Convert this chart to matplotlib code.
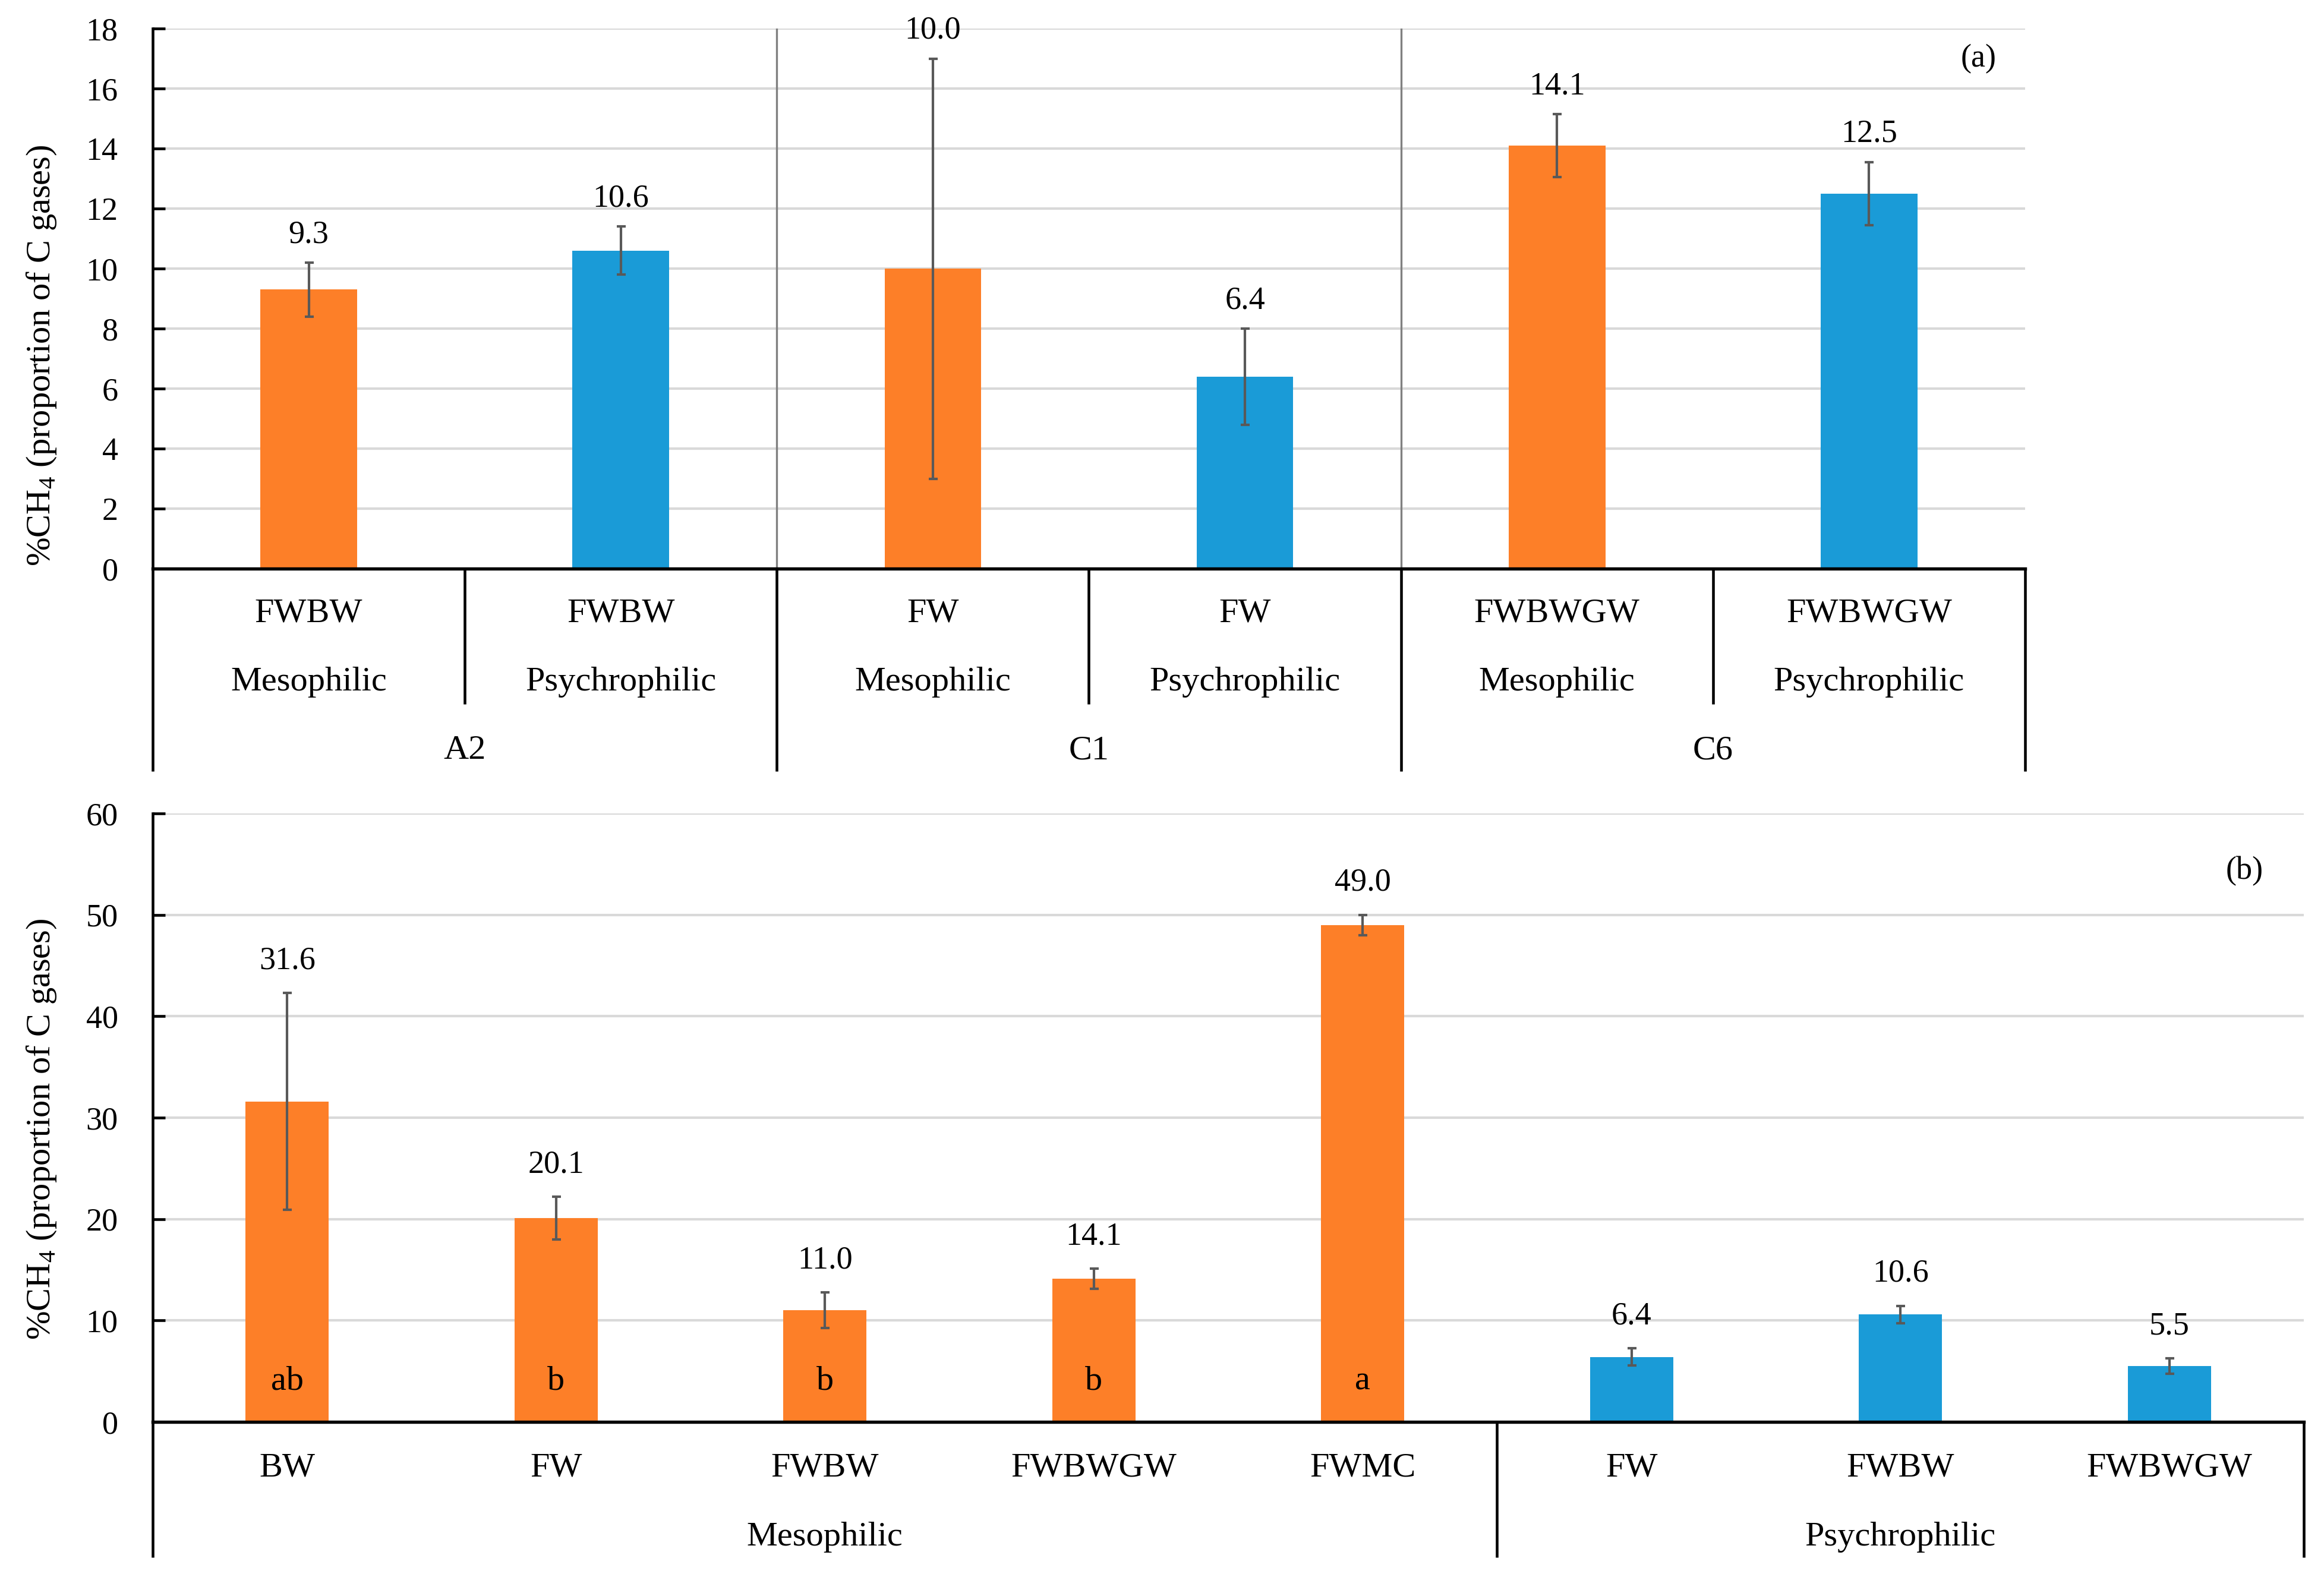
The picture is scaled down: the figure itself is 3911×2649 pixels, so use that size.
"""Methane share of carbon gases: (a) by substrate/temperature group, (b) by treatment."""
import matplotlib
matplotlib.use("Agg")
import matplotlib.pyplot as plt
import numpy as np

plt.rcParams["font.family"] = ["Liberation Serif", "DejaVu Serif"]
plt.rcParams["mathtext.fontset"] = "custom"
plt.rcParams["mathtext.rm"] = "Liberation Serif"

# ---------------------------------------------------------------------------
# Data
# ---------------------------------------------------------------------------
# panel (a)
a_substrates = ["FWBW", "FWBW", "FW", "FW", "FWBWGW", "FWBWGW"]
a_temps      = ["Mesophilic", "Psychrophilic"] * 3
a_groups     = ["A2", "C1", "C6"]
a_values     = [9.3, 10.6, 10.0, 6.4, 14.1, 12.5]
a_errors     = [0.9, 0.8, 7.0, 1.6, 1.05, 1.05]
a_is_meso    = [True, False, True, False, True, False]

# panel (b)
b_substrates = ["BW", "FW", "FWBW", "FWBWGW", "FWMC", "FW", "FWBW", "FWBWGW"]
b_groups     = ["Mesophilic", "Psychrophilic"]
b_group_size = [5, 3]
b_values     = [31.6, 20.1, 11.0, 14.1, 49.0, 6.4, 10.6, 5.5]
b_errors     = [10.7, 2.1, 1.75, 1.0, 1.0, 0.85, 0.85, 0.75]
b_letters    = ["ab", "b", "b", "b", "a", "", "", ""]

ORANGE = "#FD7F28"
BLUE   = "#1A9BD7"
GRID   = "#D9D9D9"
ERR    = "#595959"
SEP    = "#808080"

YLABEL = "%CH$_\\mathregular{4}$ (proportion of C gases)"

W, H, DPI = 3912, 2649, 300


def px_axes(fig, x0, y0, x1, y1):
    """Add axes from pixel box (top-left origin)."""
    return fig.add_axes([x0 / W, 1 - y1 / H, (x1 - x0) / W, (y1 - y0) / H])


def style_axes(ax, ymax, step):
    ax.set_ylim(0, ymax)
    ax.set_yticks(np.arange(0, ymax + step / 2, step))
    ax.set_xticks([])
    ax.yaxis.grid(True, color=GRID, linewidth=1.0)
    ax.set_axisbelow(True)
    for s in ("top", "right"):
        ax.spines[s].set_visible(False)
    ax.spines["left"].set_linewidth(1.1)
    ax.spines["bottom"].set_linewidth(1.3)
    ax.tick_params(axis="y", direction="in", length=5, width=1.1,
                   labelsize=13, pad=14)


def vline_below(ax, x, y_end, lw=1.1, color="black"):
    ax.plot([x, x], [0, y_end], transform=ax.get_xaxis_transform(),
            color=color, linewidth=lw, clip_on=False, solid_capstyle="butt")


fig = plt.figure(figsize=(W / DPI, H / DPI), dpi=DPI)

# ---------------------------------------------------------------------------
# Panel (a)
# ---------------------------------------------------------------------------
ax = px_axes(fig, 257, 48, 3408, 957)
x = np.arange(len(a_values))
colors = [ORANGE if m else BLUE for m in a_is_meso]
ax.bar(x, a_values, width=0.31, color=colors, zorder=2)
ax.errorbar(x, a_values, yerr=a_errors, fmt="none", ecolor=ERR,
            elinewidth=1.0, capsize=1.8, capthick=1.0, zorder=3)
ax.set_xlim(-0.5, len(a_values) - 0.5)
style_axes(ax, 18, 2)
for xi, v, e in zip(x, a_values, a_errors):
    ax.annotate(f"{v:.1f}", (xi, v + e), xytext=(0, 11.3),
                textcoords="offset points", ha="center", va="center",
                fontsize=13, annotation_clip=False)

# separators between groups (through plot area) and category table lines
for xb in (1.5, 3.5):
    ax.plot([xb, xb], [0, 18], color=SEP, linewidth=0.8, zorder=1)
for xb in (-0.5, 1.5, 3.5, 5.5):
    vline_below(ax, xb, -0.375)
for xb in (0.5, 2.5, 4.5):
    vline_below(ax, xb, -0.251)

for xi, sub, tmp in zip(x, a_substrates, a_temps):
    ax.text(xi, -0.0836, sub, transform=ax.get_xaxis_transform(),
            ha="center", va="center", fontsize=14)
    ax.text(xi, -0.210, tmp, transform=ax.get_xaxis_transform(),
            ha="center", va="center", fontsize=14)
for gi, g in enumerate(a_groups):
    ax.text(2 * gi + 0.5, -0.337, g, transform=ax.get_xaxis_transform(),
            ha="center", va="center", fontsize=14)

ax.text(0.975, 0.944, "(a)", transform=ax.transAxes, ha="center",
        va="center", fontsize=13)
fig.text(70 / W, 1 - 598 / H, YLABEL, rotation=90, ha="center",
         va="center", fontsize=14)

# ---------------------------------------------------------------------------
# Panel (b)
# ---------------------------------------------------------------------------
ax = px_axes(fig, 257, 1369, 3877, 2393)
x = np.arange(len(b_values))
n_meso = b_group_size[0]
colors = [ORANGE] * n_meso + [BLUE] * b_group_size[1]
ax.bar(x, b_values, width=0.31, color=colors, zorder=2)
ax.errorbar(x, b_values, yerr=b_errors, fmt="none", ecolor=ERR,
            elinewidth=1.0, capsize=1.8, capthick=1.0, zorder=3)
ax.set_xlim(-0.5, len(b_values) - 0.5)
style_axes(ax, 60, 10)
for xi, v, e in zip(x, b_values, b_errors):
    ax.annotate(f"{v:.1f}", (xi, v + e), xytext=(0, 13),
                textcoords="offset points", ha="center", va="center",
                fontsize=13, annotation_clip=False)
for xi, let in zip(x, b_letters):
    if let:
        ax.text(xi, 4.0, let, ha="center", va="center", fontsize=14, zorder=4)

for xb in (-0.5, n_meso - 0.5, len(b_values) - 0.5):
    vline_below(ax, xb, -0.2227)

for xi, sub in zip(x, b_substrates):
    ax.text(xi, -0.0752, sub, transform=ax.get_xaxis_transform(),
            ha="center", va="center", fontsize=14)
start = 0
for g, n in zip(b_groups, b_group_size):
    ax.text(start + (n - 1) / 2, -0.1895, g, transform=ax.get_xaxis_transform(),
            ha="center", va="center", fontsize=14)
    start += n

ax.text(0.9724, 0.905, "(b)", transform=ax.transAxes, ha="center",
        va="center", fontsize=13)
fig.text(70 / W, 1 - 1900 / H, YLABEL, rotation=90, ha="center",
         va="center", fontsize=14)

fig.savefig("out.png", dpi=DPI)
plt.close(fig)
